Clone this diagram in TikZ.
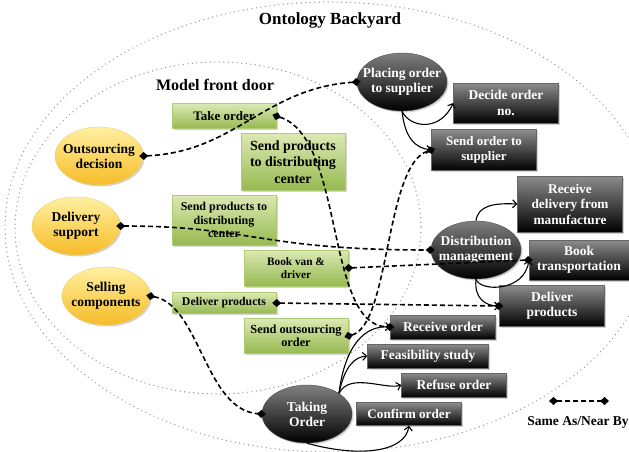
\documentclass[tikz,border=0pt]{standalone}
\usepackage{fontspec}
\setmainfont{Liberation Serif}
\usetikzlibrary{arrows.meta,shapes.geometric,shadows}

\definecolor{greentop}{RGB}{220,233,180}
\definecolor{greenbot}{RGB}{150,185,80}
\definecolor{greenline}{RGB}{175,203,115}
\definecolor{yellowtop}{RGB}{255,240,160}
\definecolor{yellowbot}{RGB}{246,188,40}
\definecolor{yellowline}{RGB}{240,205,110}
\definecolor{dotgray}{RGB}{150,150,150}

\newcommand{\fsz}[2]{\fontsize{#1}{#2}\selectfont}

\begin{document}
\begin{tikzpicture}[x=1pt,y=-1pt,
  every node/.style={font=\bfseries\fsz{13.5}{15.5}, align=center, inner sep=1pt},
  region/.style={dotgray, line width=1.4pt, line cap=round, dash pattern=on 0pt off 4.5pt},
  shade/.style={drop shadow={shadow xshift=1.5pt, shadow yshift=-1.5pt, opacity=0.35}},
  greenbox/.style={rectangle, shade, draw=greenline, top color=greentop, bottom color=greenbot, minimum width=104pt},
  darkbox/.style={rectangle, shade, draw=black!60, top color=black!45, bottom color=black, text=white, minimum width=105pt, minimum height=24pt},
  yellell/.style={ellipse, shade, draw=yellowline, top color=yellowtop, bottom color=yellowbot, minimum width=88pt, minimum height=58pt},
  darkell/.style={ellipse, shade, draw=black!70, top color=black!50, bottom color=black, minimum width=90pt, minimum height=58pt},
  yelltext/.style={align=center, text=black, font=\bfseries\fsz{13.5}{15}},
  elltext/.style={align=center, text=white, font=\bfseries\fsz{13.5}{15}},
  same/.style={line width=1.6pt, dash pattern=on 5pt off 3pt, {Diamond[length=9pt,width=8pt]}-{Diamond[length=9pt,width=8pt]}, shorten <=-4pt, shorten >=-4pt},
  flow/.style={line width=1.1pt, -{Straight Barb[length=4pt,width=8pt]}}]

\useasboundingbox (0,0) rectangle (629,452);

\draw[region] (330,227) ellipse [x radius=325, y radius=225];
\draw[region] (218,228) ellipse [x radius=203, y radius=166];

\node[font=\bfseries\fsz{17}{19}] (backyard) at (330,20) {Ontology Backyard};
\node[font=\bfseries\fsz{16}{18}] (frontdoor) at (215,85) {Model front door};

\node[yellell, label={[yelltext]center:Outsourcing\\decision}] (outsrc) at (99,156) {};
\node[yellell, label={[yelltext]center:Delivery\\support}] (delsup) at (76,226) {};
\node[yellell, label={[yelltext]center:Selling\\components}] (selling) at (106,296) {};

\node[darkell, label={[elltext]center:Placing order\\to supplier}] (placing) at (402,82) {};
\node[darkell, label={[elltext]center:Distribution\\management}] (distmgmt) at (476,250) {};
\node[darkell, label={[elltext]center:Taking\\Order}] (taking) at (307,414) {};

\node[greenbox, minimum height=25pt, font=\bfseries\fsz{13}{15}] (takeorder) at (224,116) {Take order};
\node[greenbox, minimum height=57pt, font=\bfseries\fsz{14}{16.5}] (sendcenter) at (293,162) {Send products\\to distributing\\center};
\node[greenbox, minimum height=50pt, font=\bfseries\fsz{12}{13.3}] (sendprod) at (224,220) {Send products to\\distributing\\center};
\node[greenbox, minimum height=36pt, font=\bfseries\fsz{11.3}{13.3}] (bookvan) at (296,268) {Book van \&\\driver};
\node[greenbox, minimum height=21pt, font=\bfseries\fsz{11.8}{13}] (delgreen) at (224,303) {Deliver products};
\node[greenbox, minimum height=35pt, font=\bfseries\fsz{12.3}{13.3}] (sendout) at (296,336) {Send outsourcing\\order};

\node[darkbox, minimum height=40pt] (decide) at (506,103) {Decide order\\no.};
\node[darkbox, minimum height=41pt, font=\bfseries\fsz{13}{15.5}] (sendorder) at (484,150) {Send order to\\supplier};
\node[darkbox, minimum height=56pt, font=\bfseries\fsz{13.3}{15.5}] (recdel) at (570,204) {Receive\\delivery from\\manufacture};
\node[darkbox, minimum width=100pt, minimum height=40pt] (booktrans) at (579,260) {Book\\transportation};
\node[darkbox, minimum height=41pt] (deldark) at (552,306) {Deliver\\products};
\node[darkbox] (recorder) at (443,327) {Receive order};
\node[darkbox, minimum width=121pt] (feas) at (428,356) {Feasibility study};
\node[darkbox] (refuse) at (454,385) {Refuse order};
\node[darkbox, minimum height=23pt, font=\bfseries\fsz{13.2}{15}] (confirm) at (409,414) {Confirm order};

\draw[same] (outsrc.east) .. controls (235,152) and (265,88) .. (placing.west);
\draw[same] (takeorder.east) .. controls (345,138) and (325,325) .. (recorder.west);
\draw[same] (delsup.east) .. controls (250,226) and (260,250) .. (distmgmt.west);
\draw[same] (bookvan.east) -- (booktrans.west);
\draw[same] (delgreen.east) -- (deldark.west);
\draw[same] (sendout.east) .. controls (390,325) and (385,165) .. (sendorder.west);
\draw[same] (selling.east) .. controls (200,305) and (205,410) .. (taking.west);

\draw[flow] (placing.south) .. controls (410,128) and (440,132) .. (decide.west);
\draw[flow] (placing.south) .. controls (405,138) and (415,148) .. (sendorder.west);
\draw[flow] (distmgmt.north) .. controls (478,205) and (495,203) .. (recdel.west);
\draw[flow] (distmgmt.south) .. controls (480,292) and (525,292) .. (booktrans.west);
\draw[flow] (distmgmt.south) .. controls (474,298) and (485,306) .. (deldark.west);
\draw[flow] (taking.north east) .. controls (345,345) and (365,325) .. (recorder.west);
\draw[flow] (taking.north east) .. controls (345,365) and (355,357) .. (feas.west);
\draw[flow] (taking.north east) .. controls (350,372) and (385,390) .. (refuse.west);
\draw[flow] (taking.south) .. controls (360,458) and (405,452) .. (confirm.south);

\coordinate (legA) at (553,401);
\coordinate (legB) at (605,401);
\draw[same] (legA) -- (legB);
\node (legtext) at (578,422) {Same As/Near By};
\end{tikzpicture}
\end{document}
